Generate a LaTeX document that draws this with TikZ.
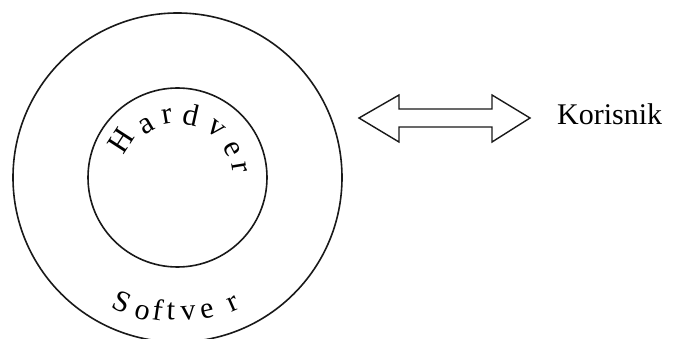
\documentclass[tikz,border=0pt]{standalone}
\usepackage{fontspec}
\setmainfont{Liberation Serif}
\usetikzlibrary{calc}
\begin{document}
\begin{tikzpicture}[x=1pt,y=1pt,
  ring/.style={draw=black!90, line width=1.6pt},
  arrowshape/.style={draw=black!90, line width=1.4pt, line join=miter, fill=white},
  lbl/.style={font=\fontsize{30}{36}\selectfont, inner sep=0pt, anchor=base west},
  hw/.style={font=\fontsize{31}{36}\selectfont, inner sep=0pt, anchor=center},
  sw/.style={font=\fontsize{30}{36}\selectfont, inner sep=0pt, anchor=center}]
\useasboundingbox (0,0) rectangle (673,338);
\clip (0,0) rectangle (673,338);
\coordinate (c) at (177.5,160.5);
\draw[ring] (c) circle[radius=164.5];
\draw[ring] (c) circle[radius=89.5];
% curved label: Hardver
\foreach \ch/\ang/\rad [count=\i] in {H/147.1/67.3, a/120.4/60.3, r/99.8/61.9, d/77.4/64, v/51.6/61.9, e/27.8/61.1, r/9.5/63.4}
  \node[hw, rotate=\ang-90] (hw\i) at ($(c)+(\ang:\rad)$) {\ch};
% curved label: Softver
\foreach \ch/\ang/\rad [count=\i] in {S/246.1/135.6, o/255.3/139.6, f/261.6/133.9, t/267.2/134.2, v/274.6/135.9, e/282.7/136.8, r/293.8/138.8}
  \node[sw, rotate=\ang+90] (sw\i) at ($(c)+(\ang:\rad)$) {\ch};
% double arrow
\coordinate (lt) at (359,220);
\coordinate (rt) at (530,220);
\draw[arrowshape] (lt) -- (399,243) -- (399,229) -- (492,229) -- (492,243) -- (rt)
  -- (492,196) -- (492,211) -- (399,211) -- (399,196) -- cycle;
\node[lbl] (kor) at (557,213) {Korisnik};
\end{tikzpicture}
\end{document}
